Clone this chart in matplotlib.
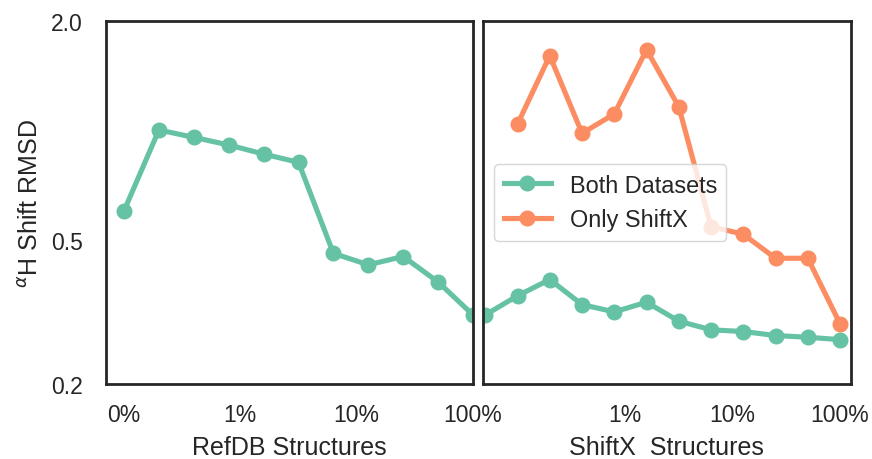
import matplotlib
matplotlib.use("Agg")
import matplotlib.pyplot as plt
import numpy as np

plt.rcParams['font.family'] = ['Liberation Sans', 'DejaVu Sans']

# x positions are log10 of the structure fraction
refdb_x = [-3.0, -2.7, -2.4, -2.1, -1.8, -1.5, -1.2, -0.9, -0.6, -0.3, 0.0]
refdb_both = [0.600, 1.002, 0.956, 0.911, 0.860, 0.816, 0.458, 0.426, 0.449, 0.382, 0.310]

shiftx_x_both = [-3.3, -3.0, -2.7, -2.4, -2.1, -1.8, -1.5, -1.2, -0.9, -0.6, -0.3, 0.0]
shiftx_both = [0.310, 0.350, 0.388, 0.331, 0.316, 0.336, 0.298, 0.282, 0.279, 0.272, 0.269, 0.265]

shiftx_x_only = [-3.0, -2.7, -2.4, -2.1, -1.8, -1.5, -1.2, -0.9, -0.6, -0.3, 0.0]
shiftx_only = [1.040, 1.605, 0.981, 1.109, 1.667, 1.161, 0.543, 0.517, 0.444, 0.444, 0.293]

left_ticks = [-3, -2, -1, 0]
left_ticklabels = ['0%', '1%', '10%', '100%']
right_ticks = [-2, -1, 0]
right_ticklabels = ['1%', '10%', '100%']
y_ticks = [0.2, 0.5, 2.0]
y_ticklabels = ['0.2', '0.5', '2.0']

green = '#66c2a5'
orange = '#fc8d62'
dark = '#262626'

fig = plt.figure(figsize=(8.72, 4.6), dpi=100)
axL = fig.add_axes([106/872, 75/460, 367/872, 363/460])
axR = fig.add_axes([482.7/872, 75/460, 368.3/872, 363/460], sharey=axL)

lw = 3.7
ms = 10.5
axL.plot(refdb_x, refdb_both, '-o', color=green, lw=lw, ms=ms)
axR.plot(shiftx_x_both, shiftx_both, '-o', color=green, lw=lw, ms=ms, label='Both Datasets')
axR.plot(shiftx_x_only, shiftx_only, '-o', color=orange, lw=lw, ms=ms, label='Only ShiftX')

axL.set_yscale('log')
axL.set_ylim(0.2, 2.0)
axL.set_yticks(y_ticks)
axL.set_yticklabels(y_ticklabels)
axL.yaxis.set_minor_locator(matplotlib.ticker.NullLocator())

axL.set_xlim(-3.155, 0.0)
axR.set_xlim(-3.324, 0.102)
axL.set_xticks(left_ticks)
axL.set_xticklabels(left_ticklabels)
axR.set_xticks(right_ticks)
axR.set_xticklabels(right_ticklabels)

for ax in (axL, axR):
    for s in ax.spines.values():
        s.set_color(dark)
        s.set_linewidth(2.0)
    ax.tick_params(axis='x', length=0, labelsize=16.5, colors=dark, pad=14)
    ax.tick_params(axis='y', length=0, labelsize=16.5, colors=dark, pad=16.5)
    ax.set_facecolor('white')
axR.tick_params(axis='y', labelleft=False)

axL.set_xlabel('RefDB Structures', fontsize=18, color=dark, labelpad=6)
axR.set_xlabel('ShiftX  Structures', fontsize=18, color=dark, labelpad=6)
axL.set_ylabel(r'$^{\alpha}$H Shift RMSD', fontsize=18, color=dark, labelpad=6)

leg = axR.legend(loc='center left', fontsize=16.9, framealpha=0.8, edgecolor='#cccccc')
for t in leg.get_texts():
    t.set_color(dark)

fig.savefig('out.png', dpi=100, facecolor='white')
